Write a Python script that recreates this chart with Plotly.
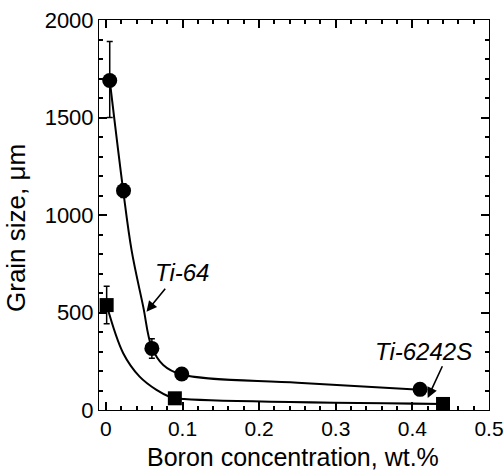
import plotly.graph_objects as go

# Measured data
ti64_x = [0.005, 0.023, 0.06, 0.099, 0.41]
ti64_y = [1690, 1125, 316, 185, 106]
ti64_err_plus = [200, 35, 50, 0, 0]
ti64_err_minus = [190, 35, 50, 0, 0]

ti6242_x = [0.001, 0.09, 0.44]
ti6242_y = [538, 60, 31]
ti6242_err = [96, 0, 0]

# Fitted trend curves
ti64_fit_x = [0.005, 0.0226, 0.0335, 0.0487, 0.0596, 0.0748, 0.0987, 0.25, 0.41]
ti64_fit_y = [1690, 1125, 820, 530, 325, 231, 182, 140, 104]
ti6242_fit_x = [0.001, 0.0226, 0.044, 0.066, 0.083, 0.09, 0.44]
ti6242_fit_y = [538, 291, 171, 103, 68, 60, 31]

x_range = [-0.009, 0.5]
y_range = [0, 2000]
x_major, x_minor = 0.1, 0.02
y_major, y_minor = 500, 100

INK = "black"
FONT = "Liberation Sans, Arial, sans-serif"

fig = go.Figure()

fig.add_trace(go.Scatter(x=ti64_fit_x, y=ti64_fit_y, mode="lines",
                         line=dict(color=INK, width=2, shape="spline", smoothing=1.0),
                         hoverinfo="skip", showlegend=False))
fig.add_trace(go.Scatter(x=ti6242_fit_x, y=ti6242_fit_y, mode="lines",
                         line=dict(color=INK, width=2, shape="spline", smoothing=1.0),
                         hoverinfo="skip", showlegend=False))

fig.add_trace(go.Scatter(x=ti64_x, y=ti64_y, mode="markers", name="Ti-64",
                         marker=dict(symbol="circle", size=15, color=INK),
                         error_y=dict(type="data", array=ti64_err_plus, arrayminus=ti64_err_minus,
                                      color=INK, thickness=1.5, width=3),
                         showlegend=False))
fig.add_trace(go.Scatter(x=ti6242_x, y=ti6242_y, mode="markers", name="Ti-6242S",
                         marker=dict(symbol="square", size=14, color=INK),
                         error_y=dict(type="data", array=ti6242_err, color=INK, thickness=1.5, width=3),
                         showlegend=False))

# Labels and arrows
fig.add_annotation(x=0.099, y=703, text="<i>Ti-64</i>", showarrow=False,
                   font=dict(family=FONT, size=24, color=INK))
fig.add_annotation(x=0.053, y=504, ax=0.079, ay=630, xref="x", yref="y", axref="x", ayref="y",
                   text="", showarrow=True, arrowhead=2, arrowsize=1.3, arrowwidth=1.6,
                   arrowcolor=INK)
fig.add_annotation(x=0.414, y=299, text="<i>Ti-6242S</i>", showarrow=False,
                   font=dict(family=FONT, size=24, color=INK))
fig.add_annotation(x=0.420, y=62, ax=0.440, ay=232, xref="x", yref="y", axref="x", ayref="y",
                   text="", showarrow=True, arrowhead=2, arrowsize=1.3, arrowwidth=1.6,
                   arrowcolor=INK)

# Axis titles (positions given in pixels, converted to paper fractions)
L, R, T, B = 99, 15, 20, 60
pw, ph = 504 - L - R, 470 - T - B
fig.add_annotation(x=(293 - L) / pw, y=(410 - 457) / ph, xref="paper", yref="paper",
                   showarrow=False, yanchor="middle",
                   text="Boron concentration, wt.%", font=dict(family=FONT, size=25, color=INK))
fig.add_annotation(x=(16 - L) / pw, y=(410 - 228) / ph, xref="paper", yref="paper",
                   showarrow=False, textangle=-90, xanchor="center",
                   text="Grain size, \u03bcm", font=dict(family=FONT, size=26, color=INK))

fig.update_layout(
    width=504, height=470, margin=dict(l=L, r=R, t=T, b=B),
    plot_bgcolor="white", paper_bgcolor="white", showlegend=False,
    xaxis=dict(range=x_range, ticks="inside", ticklen=8, tickwidth=2, tickcolor=INK,
               showline=True, linecolor=INK, mirror="ticks", ticklabeloverflow="allow",
               automargin=False,
               tickfont=dict(family=FONT, size=21, color=INK),
               minor=dict(ticks="inside", dtick=x_minor, ticklen=4, tickwidth=1.5, tickcolor=INK)),
    yaxis=dict(range=y_range, dtick=y_major, ticks="inside", ticklen=8, tickwidth=2, tickcolor=INK,
               showline=True, linecolor=INK, mirror="ticks", automargin=False,
               tickfont=dict(family=FONT, size=22, color=INK),
               minor=dict(ticks="inside", dtick=y_minor, ticklen=4, tickwidth=1.5, tickcolor=INK)),
)

fig.write_html("out.html")
